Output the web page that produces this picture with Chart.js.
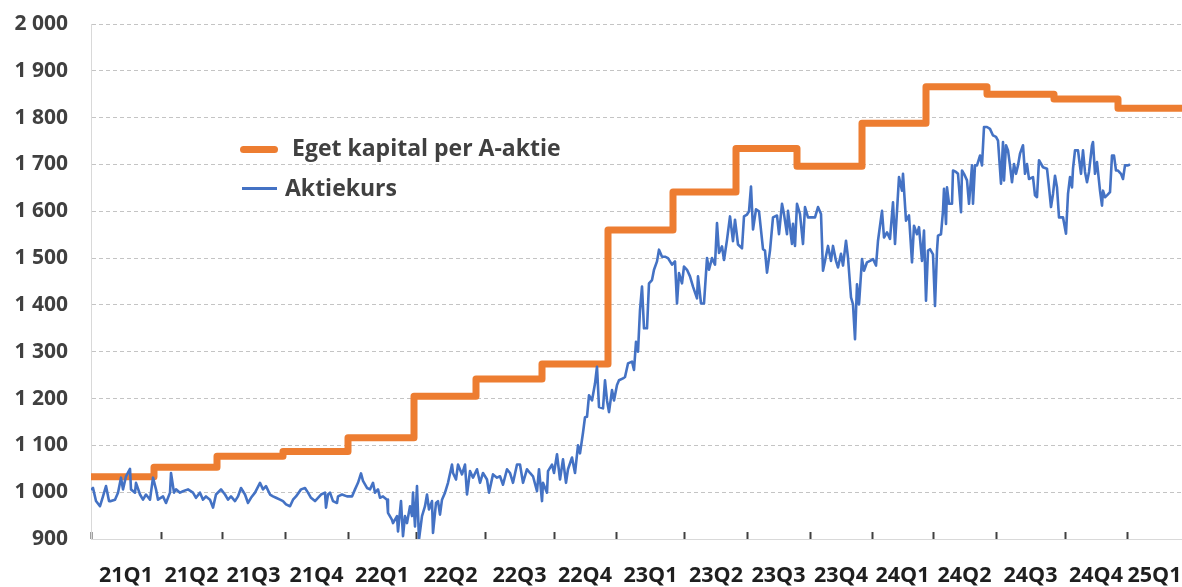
<!DOCTYPE html>
<html>
<head>
<meta charset="utf-8">
<script src="https://cdn.jsdelivr.net/npm/chart.js@4.4.1/dist/chart.umd.min.js"></script>
<style>
  html, body { margin: 0; padding: 0; background: #fff; }
  #wrap { position: relative; width: 1182px; height: 587px; }
  .leg { position: absolute; font-family: "Open Sans", sans-serif; font-weight: 700; font-size: 23px; line-height: 31px; color: #404040; white-space: nowrap; }
  .swatch { position: absolute; }
</style>
</head>
<body>
<div id="wrap">
  <canvas id="chart" width="1182" height="587"></canvas>
  <div class="swatch" style="left:240px; top:145.5px; width:38px; height:7px; border-radius:3.5px; background:#ED7D31;"></div>
  <div class="leg" style="left:292px; top:132px;">Eget kapital per A-aktie</div>
  <div class="swatch" style="left:242px; top:187px; width:35px; height:2.5px; background:#4472C4;"></div>
  <div class="leg" style="left:285px; top:172px;">Aktiekurs</div>
</div>
<script>
// x is measured in trading days from the start of 21Q1
const quarterLabels = ['21Q1', '21Q2', '21Q3', '21Q4', '22Q1', '22Q2', '22Q3', '22Q4',
  '23Q1', '23Q2', '23Q3', '23Q4', '24Q1', '24Q2', '24Q3', '24Q4', '25Q1'];
const quarterStarts = [0, 70, 131, 194, 257, 325, 394, 463, 525, 594, 656, 719, 781, 842, 905, 974, 1036];
const axisEnd = 1091;

const yTicks = [900, 1000, 1100, 1200, 1300, 1400, 1500, 1600, 1700, 1800, 1900, 2000];
const yTickLabels = ['900', '1 000', '1 100', '1 200', '1 300', '1 400', '1 500', '1 600', '1 700', '1 800', '1 900', '2 000'];

// Eget kapital per A-aktie (step changes at report dates)
const equityDays = [0, 63, 126, 192, 257, 323, 385, 451, 517, 582, 645, 706, 771, 835, 896, 963, 1027, 1091];
const equityValues = [1033, 1053, 1077, 1087, 1116, 1205, 1242, 1274, 1560, 1641, 1734, 1696, 1788, 1866, 1850, 1840, 1820, 1820];

// Aktiekurs
const priceDays = [
  0, 2, 5, 9, 12, 15, 18, 20, 24, 27, 30, 32, 35, 39, 40, 44, 45, 49, 52, 55, 59, 62, 65, 67, 72, 75, 79, 80, 83, 85,
  89, 92, 97, 102, 105, 109, 112, 115, 119, 122, 125, 130, 134, 137, 140, 144, 147, 150, 154, 157, 160, 164, 169, 172,
  175, 179, 182, 185, 189, 192, 195, 199, 202, 205, 210, 214, 217, 220, 224, 227, 230, 234, 235, 237,
  239, 242, 246, 247, 251, 256, 261, 264, 267, 270, 272, 276, 279, 282, 284, 287, 289, 292, 296, 297, 301, 302, 306,
  307, 310, 312, 314, 316, 319, 321, 322, 324, 326, 328, 331, 334, 336, 338, 341, 342, 345, 347, 349, 351, 354, 357,
  361, 362, 365, 367, 371, 374, 376, 379, 382, 386, 389, 392, 396, 398, 402, 406, 409, 412, 416, 419, 422, 426, 429,
  432, 436, 439, 442, 446, 448, 451, 452, 456, 457, 461, 463, 466, 469, 472, 475, 477, 481, 484, 487, 489, 492, 494,
  496, 498, 501, 504, 506, 508, 512, 514, 516, 518, 521, 523, 526, 528, 532, 534, 537, 541, 543, 545, 547, 549, 551,
  553, 556, 558, 561, 563, 566, 568, 571, 574, 577, 581, 584, 586, 588, 591, 593, 596, 599, 602, 606, 607, 610, 613,
  616, 618, 621, 624, 626, 628, 631, 633, 636, 639, 642, 644, 647, 651, 653, 656, 658, 660, 662, 665, 668,
  669, 672, 674, 676, 679, 682, 686, 688, 691, 693, 696, 697, 701, 702, 704, 706, 709, 712, 714, 717, 721, 724, 727,
  730, 732, 734, 737, 740, 742, 745, 747, 750, 752, 755, 757, 760, 762, 764, 766, 768, 771, 773, 776, 779, 782, 785,
  787, 791, 793, 796, 799, 802, 804, 806, 808, 811, 812, 815, 818, 821, 823, 826, 828, 831, 833, 835, 837,
  839, 842, 844, 846, 847, 850, 852, 853, 855, 856, 858, 861, 862, 865, 867, 870, 871, 873, 876, 878, 881, 882, 884,
  886, 889, 891, 893, 896, 899, 902, 905, 907, 910, 912, 913, 915, 917, 919, 921, 923, 925, 927, 929, 932, 934, 936,
  938, 942, 944, 946, 948, 952, 956, 958, 960, 962, 964, 966, 968, 972, 975, 977, 979, 981, 982, 984, 987, 990, 992,
  994, 996, 998, 1001, 1002, 1004, 1006, 1009, 1011, 1012, 1014, 1016, 1019, 1021, 1023, 1025, 1027, 1030, 1032,
  1034, 1037, 1039
];
const priceValues = [
  1005, 1009, 981, 970, 991, 1013, 981, 981, 984, 999, 1031, 1006, 1034, 1050, 1006, 999, 1020, 995, 984, 995, 984, 1031, 1006, 984, 991, 977, 999, 1041, 999, 1006,
  999, 1002, 1006, 999, 988, 999, 984, 991, 984, 967, 995, 1006, 995, 984, 991, 981, 991, 1009, 995, 977, 988, 999, 1020, 1006,
  1013, 995, 991, 988, 984, 981, 974, 970, 984, 991, 1006, 1009, 999, 988, 981, 988, 995, 999, 967, 995,
  999, 981, 977, 991, 995, 991, 991, 1006, 1020, 1040, 1024, 1009, 1006, 1020, 999, 1006, 988, 991, 984, 956, 941, 934, 949,
  916, 981, 906, 949, 934, 970, 949, 999, 927, 1013, 899, 949, 970, 995, 963, 981, 913, 977, 981, 952, 984, 999, 1020,
  1059, 1041, 1027, 1059, 1038, 1059, 995, 1045, 1031, 1049, 1020, 1041, 1027, 999, 1038, 1031, 1034, 1016, 1049, 1041, 1020, 1059, 1059,
  1020, 1049, 1041, 1034, 1002, 1049, 981, 1020, 999, 1045, 1059, 1041, 1081, 1027, 1070, 1020, 1049, 1074, 1041, 1100, 1083, 1127, 1160,
  1161, 1207, 1196, 1232, 1268, 1182, 1179, 1239, 1196, 1171, 1218, 1196, 1229, 1239, 1243, 1246, 1275, 1279, 1261, 1321, 1300, 1389, 1439,
  1350, 1350, 1446, 1453, 1475, 1493, 1518, 1503, 1503, 1500, 1486, 1493, 1403, 1468, 1446, 1482, 1475, 1461, 1439, 1414, 1461, 1403, 1403,
  1500, 1475, 1500, 1486, 1575, 1511, 1525, 1496, 1539, 1589, 1536, 1582, 1529, 1521, 1589, 1593, 1600, 1653, 1561, 1604, 1600,
  1580, 1519, 1516, 1469, 1516, 1587, 1591, 1551, 1616, 1594, 1551, 1601, 1530, 1573, 1526, 1616, 1594, 1530, 1609, 1587, 1587, 1587, 1609,
  1594, 1473, 1494, 1526, 1494, 1526, 1494, 1480, 1509, 1484, 1537, 1501, 1416, 1401, 1327, 1444, 1401, 1498, 1473, 1491, 1494, 1498, 1484,
  1537, 1601, 1544, 1555, 1541, 1619, 1530, 1601, 1673, 1644, 1680, 1580, 1591, 1491, 1569, 1551, 1566, 1494, 1559, 1409, 1516,
  1519, 1508, 1398, 1516, 1548, 1551, 1601, 1648, 1573, 1651, 1616, 1616, 1687, 1684, 1680, 1598, 1687, 1680, 1666, 1616, 1698, 1616, 1698,
  1698, 1719, 1698, 1780, 1780, 1776, 1762, 1759, 1751, 1659, 1748, 1666, 1741, 1730, 1698, 1662, 1701, 1680, 1698, 1723, 1741, 1680, 1701,
  1669, 1673, 1634, 1630, 1709, 1694, 1691, 1651, 1609, 1637, 1676, 1651, 1587, 1587, 1552, 1637, 1673, 1651, 1691, 1730, 1730, 1680, 1730,
  1684, 1662, 1684, 1741, 1748, 1680, 1705, 1644, 1612, 1644, 1630, 1634, 1641, 1719, 1719, 1687, 1687, 1680, 1669,
  1698, 1698, 1700
];

const labelPositions = quarterStarts.map((s, i) => (s + (i + 1 < quarterStarts.length ? quarterStarts[i + 1] : axisEnd)) / 2);

const fontFamily = '"Open Sans", sans-serif';

// keep Chart.js from reserving extra room for overhanging tick labels
const noOverhang = (s) => { s.paddingLeft = 0; s.paddingRight = 0; s.paddingTop = 0; s.paddingBottom = 0; };

new Chart(document.getElementById('chart'), {
  type: 'line',
  data: {
    datasets: [
      {
        label: 'Eget kapital per A-aktie',
        data: equityDays.map((d, i) => ({ x: d, y: equityValues[i] })),
        borderColor: '#ED7D31',
        borderWidth: 7,
        stepped: 'before',
        borderJoinStyle: 'round',
        pointRadius: 0,
        order: 2,
      },
      {
        label: 'Aktiekurs',
        data: priceDays.map((d, i) => ({ x: d, y: priceValues[i] })),
        borderColor: '#4472C4',
        borderWidth: 2.6,
        borderJoinStyle: 'round',
        tension: 0,
        pointRadius: 0,
        order: 1,
      },
    ],
  },
  options: {
    responsive: false,
    animation: false,
    layout: { padding: { top: 24, right: 0, left: 0, bottom: 0 } },
    plugins: { legend: { display: false }, tooltip: { enabled: false } },
    scales: {
      y: {
        min: 900,
        max: 2000,
        afterBuildTicks: (s) => { s.ticks = yTicks.map((v) => ({ value: v })); },
        afterFit: (s) => { s.width = 91; noOverhang(s); },
        ticks: {
          callback: (v, i) => yTickLabels[i],
          padding: 23,
          color: '#404040',
          font: { family: fontFamily, weight: 'bold', size: 21 },
        },
        grid: {
          drawTicks: false,
          color: (ctx) => (ctx.tick && ctx.tick.value === 900 ? 'rgba(0,0,0,0)' : '#c4c4c4'),
        },
        border: { display: true, color: '#d9d9d9', dash: [4, 3] },
      },
      xq: {
        type: 'linear',
        position: 'bottom',
        weight: 0,
        min: 0,
        max: axisEnd,
        afterBuildTicks: (s) => { s.ticks = quarterStarts.map((v) => ({ value: v })); },
        afterFit: (s) => { s.height = 0; noOverhang(s); },
        ticks: { display: false },
        grid: { drawOnChartArea: false, drawTicks: true, tickLength: -7, tickWidth: 2, tickColor: '#404040', color: '#404040' },
        border: { display: false },
      },
      x: {
        type: 'linear',
        position: 'bottom',
        weight: 1,
        min: 0,
        max: axisEnd,
        afterBuildTicks: (s) => { s.ticks = labelPositions.map((v) => ({ value: v })); },
        afterFit: (s) => { s.height = 48; noOverhang(s); },
        ticks: {
          callback: (v, i) => quarterLabels[i],
          autoSkip: false,
          maxRotation: 0,
          padding: 24,
          color: '#1f1f1f',
          font: { family: fontFamily, weight: 'bold', size: 21.5 },
        },
        grid: { display: false, drawTicks: false },
        border: { display: true, color: '#d9d9d9' },
      },
    },
  },
});
</script>
</body>
</html>
